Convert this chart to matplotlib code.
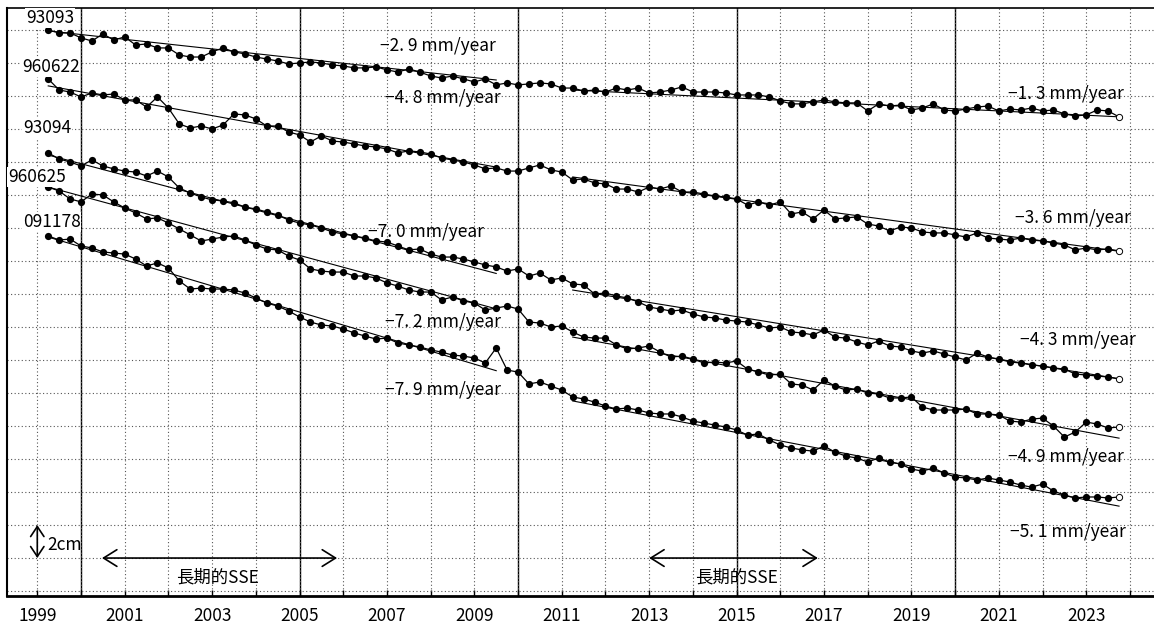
import numpy as np
import matplotlib
matplotlib.use('Agg')
import matplotlib.pyplot as plt

plt.rcParams['font.family'] = ['Noto Sans CJK JP', 'DejaVu Sans']

# 観測時刻 (年, 3か月ごと)
years = np.arange(1999.25, 2023.76, 0.25)

stations = ['93093', '960622', '93094', '960625', '091178']

# 各観測点の変位 (mm, グラフ上の位置)
st_93093 = [340.0, 338.2, 338.2, 335.2, 333.3, 337.6, 333.9, 335.8, 330.9, 331.5,
            329.1, 329.1, 324.8, 323.6, 323.6, 326.7, 329.1, 326.7, 325.5, 323.6,
            322.4, 321.2, 319.4, 320.0, 320.6, 320.0, 318.8, 318.2, 317.0, 317.0,
            317.6, 315.8, 314.5, 316.4, 314.5, 312.1, 310.9, 312.1, 310.3, 308.5,
            310.3, 306.7, 307.9, 306.7, 307.3, 307.9, 307.3, 304.8, 304.8, 303.0,
            303.6, 302.4, 304.8, 303.6, 304.8, 301.8, 302.4, 303.6, 305.5, 302.4,
            302.4, 302.4, 301.8, 300.6, 300.6, 300.6, 299.4, 297.0, 295.2, 295.2,
            296.4, 297.6, 296.4, 295.8, 295.8, 290.9, 295.2, 293.9, 294.5, 291.5,
            292.7, 295.2, 291.5, 290.9, 292.1, 293.3, 293.9, 290.9, 292.1, 291.5,
            292.7, 290.9, 291.5, 289.1, 287.9, 288.5, 291.5, 290.9, 287.3]
st_960622 = [310.3, 303.6, 302.4, 299.4, 301.8, 300.6, 301.2, 297.6, 297.6, 293.3,
             299.4, 292.7, 283.0, 280.6, 281.8, 280.0, 282.4, 289.1, 288.5, 286.1,
             281.8, 281.8, 278.2, 276.4, 272.1, 275.8, 272.7, 272.1, 270.9, 269.7,
             269.1, 267.9, 265.5, 266.7, 266.1, 264.8, 262.4, 261.2, 260.0, 258.2,
             255.8, 256.4, 254.5, 254.5, 256.4, 258.2, 255.2, 253.9, 249.1, 249.7,
             247.3, 246.7, 243.6, 243.6, 241.8, 244.8, 243.6, 245.5, 241.8, 241.8,
             240.6, 239.4, 238.8, 237.6, 233.9, 235.8, 233.9, 235.8, 228.5, 229.7,
             225.5, 230.9, 225.5, 226.1, 226.7, 222.4, 221.2, 218.2, 220.6, 220.0,
             217.6, 217.0, 217.0, 215.8, 214.5, 217.0, 213.9, 213.3, 212.7, 213.9,
             212.7, 212.1, 210.9, 209.7, 206.7, 207.9, 206.7, 207.3, 206.1]
st_93094 = [265.5, 261.8, 260.0, 257.6, 261.2, 257.6, 255.8, 254.5, 253.9, 251.5,
            254.5, 250.9, 244.2, 241.2, 238.8, 237.0, 236.4, 235.2, 232.7, 231.5,
            229.7, 227.9, 224.8, 223.0, 221.8, 220.0, 217.6, 216.4, 215.2, 213.9,
            212.1, 211.5, 209.1, 206.7, 207.3, 204.2, 202.4, 202.4, 201.2, 199.4,
            197.6, 196.4, 193.9, 195.2, 190.9, 192.7, 188.5, 189.7, 186.1, 185.5,
            180.0, 180.6, 178.8, 177.6, 175.2, 172.1, 170.9, 169.7, 170.3, 167.9,
            166.1, 165.5, 164.2, 163.6, 163.0, 161.2, 159.4, 160.0, 157.0, 156.4,
            155.2, 158.2, 153.9, 153.3, 150.9, 149.1, 151.5, 148.5, 147.9, 145.5,
            144.2, 145.5, 143.6, 141.8, 140.0, 144.2, 141.8, 140.6, 138.8, 138.2,
            137.0, 136.4, 135.2, 134.5, 131.5, 130.9, 130.3, 129.7, 128.5]
st_960625 = [244.8, 242.4, 237.6, 235.8, 240.6, 240.0, 235.8, 232.1, 229.1, 225.5,
             226.1, 223.0, 219.4, 215.8, 212.1, 213.3, 214.5, 215.2, 212.7, 209.7,
             207.3, 206.7, 203.0, 200.6, 195.2, 193.9, 193.3, 193.3, 190.9, 190.9,
             189.7, 186.7, 184.8, 182.4, 181.2, 181.2, 176.4, 178.2, 175.8, 174.5,
             170.3, 171.5, 172.7, 170.9, 163.0, 162.4, 160.0, 160.6, 157.0, 153.9,
             153.3, 153.3, 149.1, 146.7, 147.3, 148.5, 144.8, 141.8, 142.4, 140.6,
             138.2, 138.8, 138.2, 139.4, 134.5, 132.7, 130.9, 131.5, 125.5, 124.8,
             121.8, 127.9, 124.2, 121.8, 122.4, 120.0, 119.4, 117.0, 117.0, 117.6,
             111.5, 109.7, 109.7, 109.7, 110.3, 107.3, 107.3, 106.7, 103.0, 102.4,
             104.2, 104.8, 100.0, 93.3, 96.4, 102.4, 101.2, 98.8, 99.4]
st_091178 = [215.2, 212.7, 213.3, 209.1, 207.9, 205.5, 204.8, 204.2, 201.2, 197.0,
             198.8, 195.8, 187.9, 183.0, 183.6, 183.0, 183.0, 182.4, 180.6, 177.6,
             174.5, 172.7, 169.7, 166.1, 163.0, 161.2, 160.6, 158.8, 156.4, 154.5,
             152.7, 153.3, 150.3, 149.1, 147.9, 146.1, 144.8, 143.0, 142.4, 141.2,
             138.2, 147.3, 133.9, 132.7, 125.5, 126.7, 124.2, 121.8, 117.6, 116.4,
             114.5, 112.1, 110.3, 110.9, 109.7, 107.9, 107.3, 107.3, 105.5, 103.0,
             101.8, 100.6, 99.4, 97.6, 94.5, 95.2, 91.5, 88.5, 86.7, 85.5,
             84.8, 87.9, 84.2, 81.8, 80.6, 78.2, 80.6, 78.2, 77.0, 73.9,
             72.7, 74.5, 71.5, 69.1, 68.5, 67.3, 68.5, 67.3, 66.1, 64.2,
             63.0, 64.8, 60.6, 58.2, 56.4, 57.0, 57.0, 56.4, 57.0]
series = [st_93093, st_960622, st_93094, st_960625, st_091178]

# トレンド (前半 / 後半): 速度 mm/year と開始値
period1 = (1999.25, 2009.5)
period2 = (2011.25, 2023.75)
rate1 = [-2.9, -4.8, -7.0, -7.2, -7.9]
rate2 = [-1.3, -3.6, -4.3, -4.9, -5.1]
start1 = [339.4, 306.1, 264.2, 244.8, 214.5]
start2 = [303.6, 250.9, 182.4, 153.9, 115.2]

# ラベル位置
name_pos = [(1998.74, 347.3), (1998.65, 317.6), (1998.67, 280.6), (1998.33, 250.9), (1998.67, 223.6)]
rate1_pos = [(2006.84, 330.3), (2006.96, 298.8), (2006.57, 217.6), (2006.96, 163.0), (2006.96, 121.8)]
rate2_pos = [(2021.21, 301.2), (2021.37, 226.1), (2021.49, 152.1), (2021.21, 81.2), (2021.26, 35.8)]

sse_periods = [(2000.48, 2005.86), (2013.0, 2016.86)]
sse_text_x = [2003.13, 2014.99]


def rate_label(r):
    # 元図の表記 "-2. 9 mm/year" に合わせる
    return f'{r:.1f}'.replace('-', '\u2212').replace('.', '. ') + ' mm/year'


def main():
    fig = plt.figure(figsize=(11.54, 6.25), dpi=100)
    ax = fig.add_axes([7 / 1154, 29 / 625, 1147 / 1154, 588 / 625])

    ax.set_xlim(1998.307, 2024.55)
    ax.set_ylim(-3.0, 353.3)

    # グリッド
    ax.set_xticks(np.arange(1999, 2024, 2))
    ax.set_xticks(np.arange(2000, 2025, 2), minor=True)
    ax.set_yticks(np.arange(0, 341, 20))
    ax.grid(True, which='both', linestyle=(0, (1, 2.2)), color='#555555', lw=0.8)
    for yr in [2000, 2005, 2010, 2015, 2020]:
        ax.axvline(yr, color='black', lw=1.0, zorder=1)

    # 時系列
    for vals in series:
        ax.plot(years, vals, '-', color='black', lw=0.9, zorder=3)
        ax.plot(years[:-1], vals[:-1], 'o', color='black', ms=5.2, mew=0, zorder=4)
        ax.plot(years[-1], vals[-1], 'o', mfc='white', mec='black', ms=4.5, mew=0.7, zorder=4)

    # トレンド線
    for i in range(len(stations)):
        for (t0, t1), r, s in [(period1, rate1[i], start1[i]), (period2, rate2[i], start2[i])]:
            ax.plot([t0, t1], [s, s + r * (t1 - t0)], color='black', lw=0.8, zorder=2)

    for i, name in enumerate(stations):
        ax.text(name_pos[i][0], name_pos[i][1], name, fontsize=12.5, va='center', ha='left',
                bbox=dict(facecolor='white', edgecolor='none', pad=0.5), zorder=5)
        ax.text(rate1_pos[i][0], rate1_pos[i][1], rate_label(rate1[i]), fontsize=12.5,
                va='center', ha='left', zorder=5)
        ax.text(rate2_pos[i][0], rate2_pos[i][1], rate_label(rate2[i]), fontsize=12.5,
                va='center', ha='left', zorder=5)

    # スケール 2cm
    ax.annotate('', xy=(1999, 40), xytext=(1999, 20),
                arrowprops=dict(arrowstyle='<->,head_length=0.6,head_width=0.4',
                                lw=1.2, color='black', shrinkA=0, shrinkB=0, mutation_scale=12))
    ax.text(1999.22, 27.9, '2cm', fontsize=12.5, va='center', ha='left')

    # 長期的SSE
    for (t0, t1), tx in zip(sse_periods, sse_text_x):
        ax.annotate('', xy=(t1, 20), xytext=(t0, 20),
                    arrowprops=dict(arrowstyle='<->,head_length=0.8,head_width=0.5',
                                    lw=1.2, color='black', shrinkA=0, shrinkB=0, mutation_scale=12))
        ax.text(tx, 8.5, '長期的SSE', fontsize=12.5, va='center', ha='center')

    ax.tick_params(axis='x', which='both', direction='in', length=4, width=1, pad=8,
                   labelsize=12.5, top=False)
    ax.tick_params(axis='y', which='both', length=0, labelleft=False)
    ax.spines['right'].set_visible(False)
    ax.spines['bottom'].set_linewidth(2)
    ax.spines['left'].set_linewidth(1.5)
    ax.spines['top'].set_linewidth(1.2)

    fig.savefig('out.png', dpi=100)


if __name__ == "__main__":
    main()
